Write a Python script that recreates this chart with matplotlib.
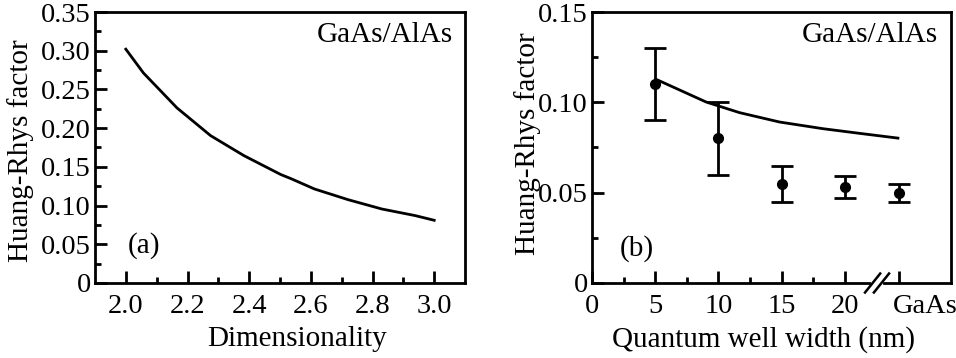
import matplotlib
matplotlib.use("Agg")
import matplotlib.pyplot as plt
import matplotlib.transforms as mtransforms
from matplotlib.ticker import FixedLocator, MultipleLocator
from matplotlib.lines import Line2D

plt.rcParams['font.family'] = ['Liberation Serif', 'DejaVu Serif']
plt.rcParams['mathtext.fontset'] = 'stix'

# Panel (a): Huang-Rhys factor vs dimensionality
dim_x = [2.0, 2.057, 2.166, 2.275, 2.383, 2.503, 2.536, 2.612, 2.721, 2.830, 2.939, 3.0]
dim_s = [0.302, 0.2713, 0.2261, 0.1903, 0.1645, 0.140, 0.1347, 0.1214, 0.1076, 0.0956, 0.087, 0.081]

# Panel (b): Huang-Rhys factor vs quantum well width
GAAS_X = 24.3
well_x = [5.05, 9.02, 11.67, 14.84, 18.28, 21.2, 24.2]
well_s = [0.1128, 0.1002, 0.0943, 0.0891, 0.0854, 0.0828, 0.0802]
exp_x = [5, 10, 15, 20, GAAS_X]
exp_s = [0.110, 0.080, 0.055, 0.053, 0.050]
exp_lo = [0.090, 0.060, 0.045, 0.047, 0.045]
exp_hi = [0.130, 0.100, 0.065, 0.059, 0.055]
b_tick_pos = [0, 5, 10, 15, 20, GAAS_X]
b_tick_lab = ['0', '5', '10', '15', '20', 'GaAs']

W, H = 956, 358
fig = plt.figure(figsize=(W / 100, H / 100), dpi=100)

ax1 = fig.add_axes([95 / W, 1 - 283 / H, 370 / W, 271 / H])
ax2 = fig.add_axes([592 / W, 1 - 283 / H, 359 / W, 271 / H])

TFS = 20.5
LFS = 21
for ax in (ax1, ax2):
    for sp in ax.spines.values():
        sp.set_linewidth(2.0)
    ax.tick_params(which='both', direction='in', top=False, right=False,
                   width=2.0, labelsize=TFS)
    ax.tick_params(axis='x', which='both', pad=8)
    ax.tick_params(axis='y', which='both', pad=3)
    ax.tick_params(which='major', length=8.5)
    ax.tick_params(which='minor', length=4.5)

# ---- (a)
ax1.plot(dim_x, dim_s, color='black', lw=2.0)
ax1.set_xlim(1.9, 3.1)
ax1.set_ylim(0, 0.35)
ax1.xaxis.set_major_locator(FixedLocator([2.0, 2.2, 2.4, 2.6, 2.8, 3.0]))
ax1.xaxis.set_minor_locator(FixedLocator([2.1, 2.3, 2.5, 2.7, 2.9]))
ax1.set_xticklabels(['2.0', '2.2', '2.4', '2.6', '2.8', '3.0'])
ax1.set_yticks([0, 0.05, 0.10, 0.15, 0.20, 0.25, 0.30, 0.35])
ax1.set_yticklabels(['0', '0.05', '0.10', '0.15', '0.20', '0.25', '0.30', '0.35'])
ax1.yaxis.set_minor_locator(MultipleLocator(0.025))
ax1.set_xlabel('Dimensionality', fontsize=LFS)
ax1.set_ylabel('Huang-Rhys factor', fontsize=LFS)
ax1.yaxis.set_label_coords(-0.165, 0.49)
ax1.xaxis.set_label_coords(0.546, -0.16)
ax1.text(0.968, 0.915, 'GaAs/AlAs', transform=ax1.transAxes, ha='right',
         va='center', fontsize=LFS)
ax1.text(0.089, 0.14, '(a)', transform=ax1.transAxes, ha='left',
         va='center', fontsize=LFS)

# ---- (b)
ax2.plot(well_x, well_s, color='black', lw=2.0)
yerr = [[s - lo for s, lo in zip(exp_s, exp_lo)],
        [hi - s for s, hi in zip(exp_s, exp_hi)]]
ax2.errorbar(exp_x, exp_s, yerr=yerr, fmt='o', color='black', ms=7,
             capsize=8, capthick=2.0, elinewidth=2.0)
ax2.set_xlim(0, 28.4)
ax2.set_ylim(0, 0.15)
ax2.xaxis.set_major_locator(FixedLocator(b_tick_pos))
ax2.xaxis.set_minor_locator(FixedLocator([2.5, 7.5, 12.5, 17.5]))
ax2.set_xticklabels(b_tick_lab)
# shift the "GaAs" label to the right of its tick, as in the reference
gl = ax2.get_xticklabels()[-1]
gl.set_ha('left')
gl.set_transform(gl.get_transform() +
                 mtransforms.ScaledTranslation(-6 / 100, 0, fig.dpi_scale_trans))
ax2.set_yticks([0, 0.05, 0.10, 0.15])
ax2.set_yticklabels(['0', '0.05', '0.10', '0.15'])
ax2.yaxis.set_minor_locator(MultipleLocator(0.025))
ax2.set_xlabel('Quantum well width (nm)', fontsize=LFS)
ax2.set_ylabel('Huang-Rhys factor', fontsize=LFS)
ax2.yaxis.set_label_coords(-0.142, 0.513)
ax2.xaxis.set_label_coords(0.479, -0.16)
ax2.text(0.964, 0.915, 'GaAs/AlAs', transform=ax2.transAxes, ha='right',
         va='center', fontsize=LFS)
ax2.text(0.078, 0.129, '(b)', transform=ax2.transAxes, ha='left',
         va='center', fontsize=LFS)

# axis break marks
bx0, bx1 = 21.9, 23.2
tr = ax2.get_xaxis_transform()
ax2.add_line(Line2D([bx0 + 0.3, bx1 - 0.3], [0, 0], transform=tr, color='white',
                    lw=3, clip_on=False, zorder=5))
for bx in (bx0, bx1 - 0.6):
    ax2.add_line(Line2D([bx - 0.3, bx + 0.9], [-0.035, 0.035], transform=tr,
                        color='black', lw=1.8, clip_on=False, zorder=6))

fig.savefig('out.png', dpi=100)
